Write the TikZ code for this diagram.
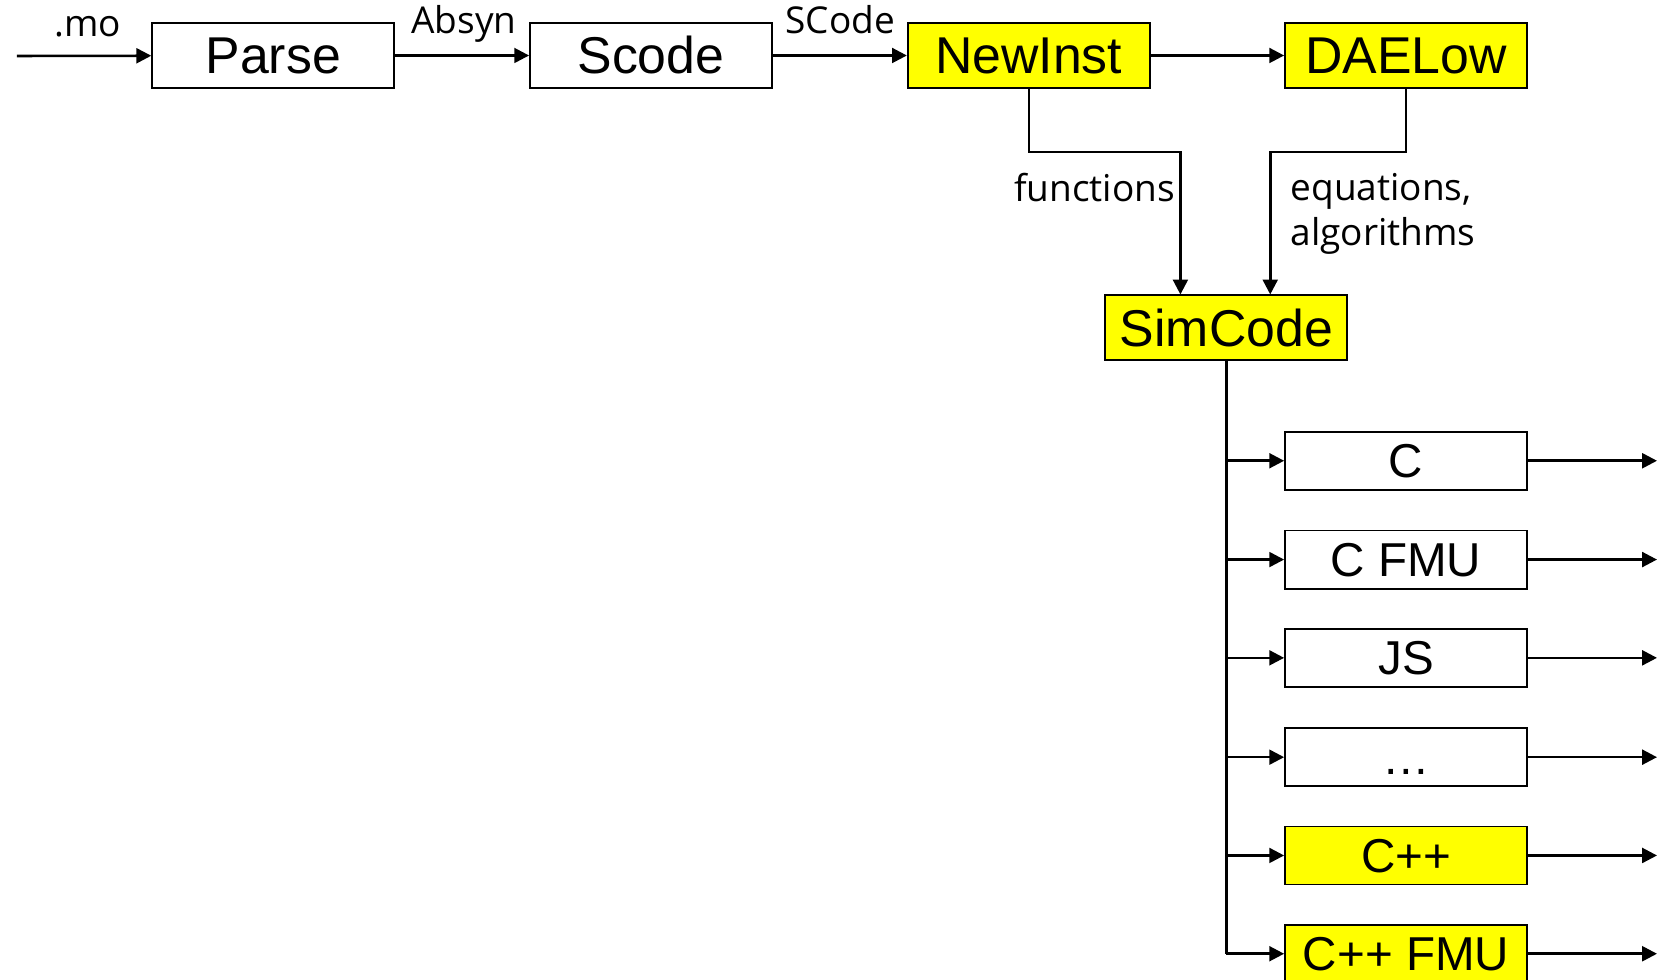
\documentclass[tikz,border=0pt]{standalone}
\usepackage{fontspec}
\setmainfont{Liberation Sans}
\newfontfamily\flowfont{Open Sans}
\usetikzlibrary{arrows.meta,positioning,calc}
\definecolor{stageyellow}{HTML}{FFFF00}
\newcommand{\etcdots}{…}

\begin{document}
\begin{tikzpicture}[x=0.5pt,y=-0.5pt,
  stage/.style={draw,line width=0.85pt,minimum width=114.5pt,minimum height=30.5pt,
    inner sep=0pt,font=\fontsize{24.5}{28}\selectfont},
  target/.style={stage,minimum height=27.5pt,font=\fontsize{22.5}{26}\selectfont,
    text height=16pt,text depth=0pt},
  hot/.style={fill=stageyellow},
  flow/.style={font=\flowfont\fontsize{17.5}{21}\selectfont,inner sep=0pt},
  arr/.style={line width=1.2pt,-{Triangle[length=7pt,width=7pt]}}]
\useasboundingbox (0,0) rectangle (1568,927);
\clip (0,0) rectangle (1568,927);

% Front end
\coordinate (src) at (16,53);
\node[stage] (parse) at (258.5,52.5) {Parse};
\node[stage] (scode) at (616,52.5) {Scode};
\node[stage,hot] (newinst) at (973.5,52.5) {NewInst};
\node[stage,hot] (daelow) at (1330.5,52.5) {DAELow};
\node[stage,hot] (simcode) at (1160.5,310) {SimCode};

\draw[arr] (src) -- (parse);
\draw[arr] (parse) -- (scode);
\draw[arr] (scode) -- (newinst);
\draw[arr] (newinst) -- (daelow);

\node[flow] (mo) at (83,25) {.mo};
\node[flow] (absyn) at (439,23) {Absyn};
\node[flow] (scodelbl) at (795,19) {SCode};

% Into SimCode
\draw[arr] (newinst.south) -- ++(0,60) -| ($(simcode.north)+(-43.5,0)$);
\draw[arr] (daelow.south) -- ++(0,60) -| ($(simcode.north)+(41.5,0)$);
\node[flow,anchor=east] (funcs) at (1112,177) {functions};
\node[flow,anchor=north west,align=left] (eqs) at (1221,164) {equations,\\algorithms};

% Code generation targets
\foreach \name/\y/\txt/\look in {c/436/C/, cfmu/529.5/C FMU/, js/622.5/JS/,
    more/716.5/\etcdots/, cpp/809.5/C++/hot, cppfmu/902.5/C++ FMU/hot} {
  \node[target,\look] (\name) at (1330.5,\y) {\txt};
  \coordinate (\name out) at (1568,\y);
  \draw[arr] (simcode.south |- \name) -- (\name);
  \draw[arr] (\name) -- (\name out);
}
\draw[line width=1.2pt] (simcode.south) -- (simcode.south |- cppfmu);
\end{tikzpicture}
\end{document}
